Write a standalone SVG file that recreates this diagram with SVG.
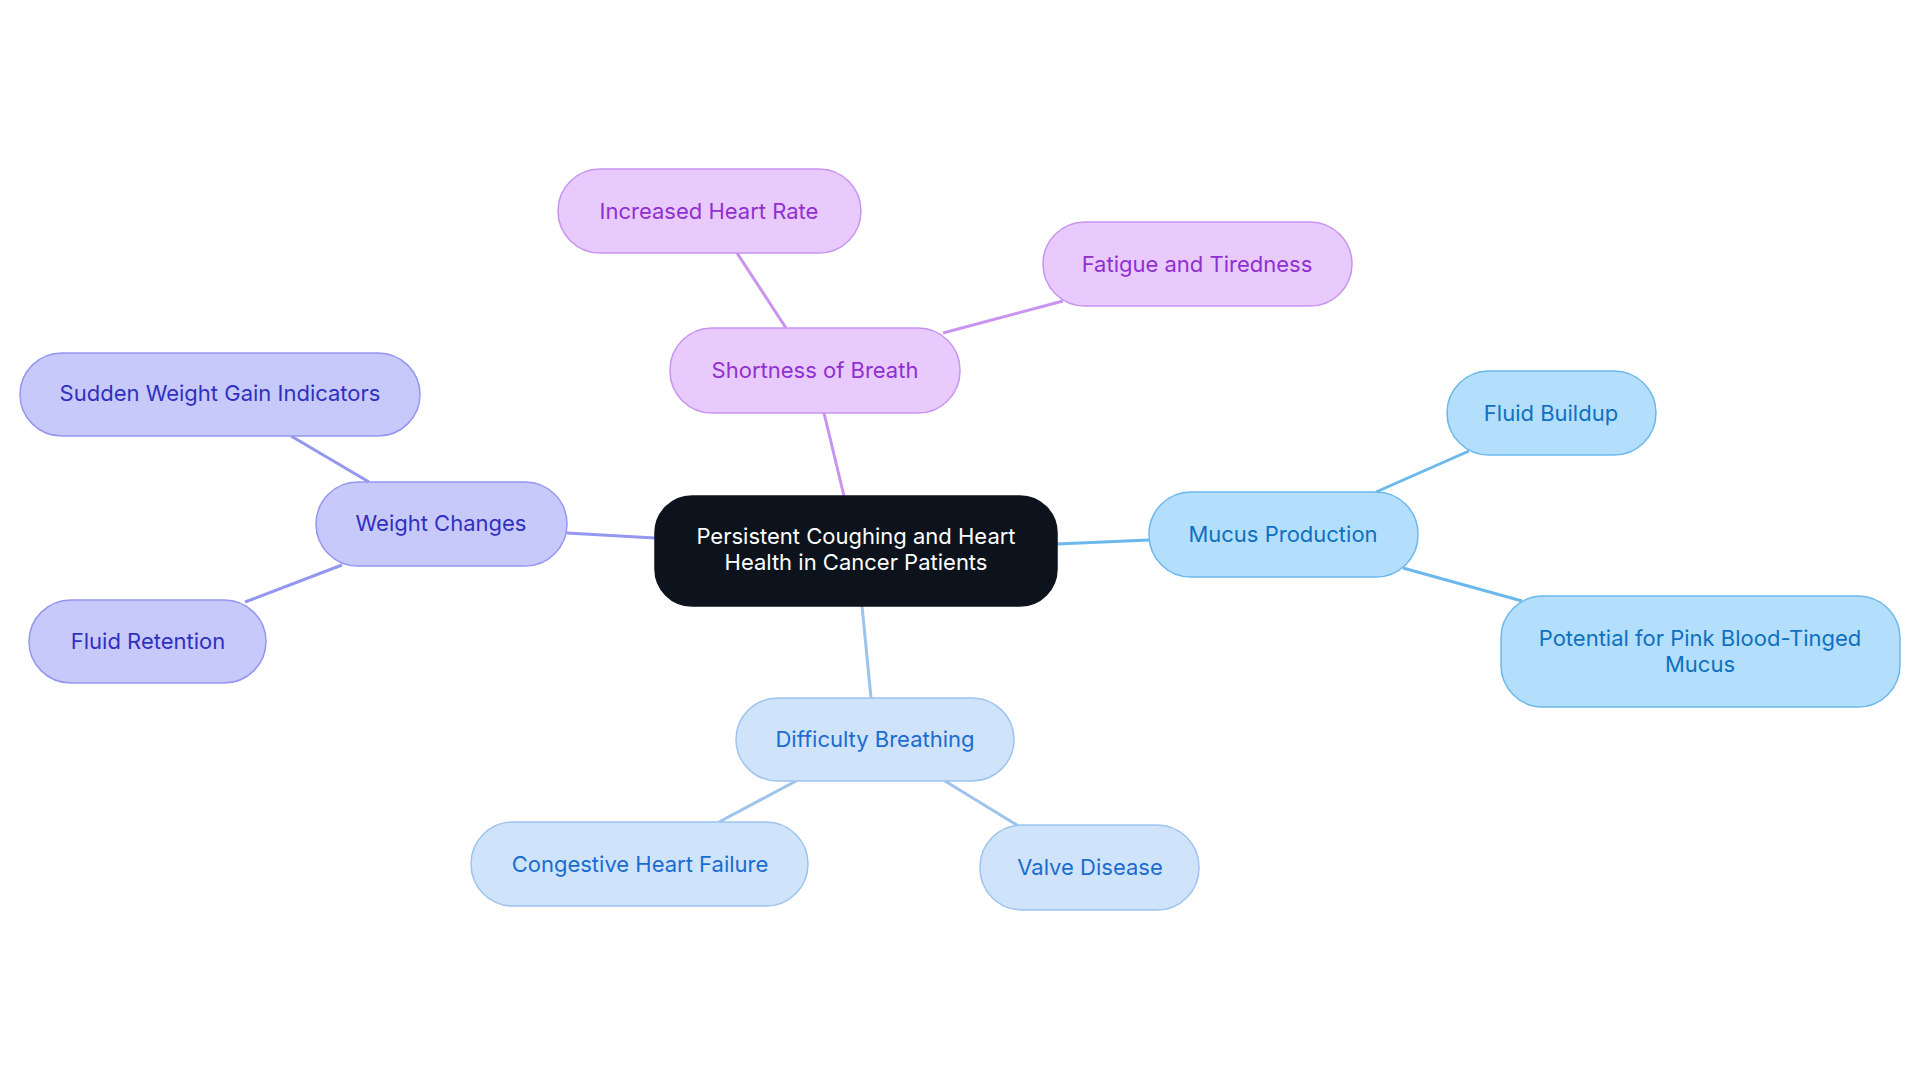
<svg xmlns="http://www.w3.org/2000/svg" width="1920" height="1083" viewBox="0 0 1920 1083">
<style>
text{font-family:Inter,"Noto Sans",sans-serif;font-size:22px;text-anchor:middle;dominant-baseline:central}
.p rect{fill:#e8cafd;stroke:#c894f0}.p text{fill:#9030d0}
.b rect{fill:#b3dffc;stroke:#6cb8ec}.b text{fill:#1070c0}
.l rect{fill:#cfe3fb;stroke:#9ec4ee}.l text{fill:#1a6cd0}
.v rect{fill:#c8c9fb;stroke:#9496ef}.v text{fill:#3030c0}
rect{stroke-width:1.5}
#edges line{stroke-width:3}
</style>
<rect width="1920" height="1083" fill="#fff"/>
<g id="edges">
<line x1="844" y1="496" x2="824" y2="413" stroke="#c894f0"/>
<line x1="786" y1="328" x2="737" y2="253" stroke="#c894f0"/>
<line x1="943" y1="333" x2="1063" y2="301" stroke="#c894f0"/>
<line x1="1057" y1="544" x2="1149" y2="540" stroke="#6cb8ec"/>
<line x1="1376" y1="492" x2="1469" y2="451" stroke="#6cb8ec"/>
<line x1="1403" y1="568" x2="1522" y2="601" stroke="#6cb8ec"/>
<line x1="862" y1="606" x2="871" y2="698" stroke="#9ec4ee"/>
<line x1="796" y1="781" x2="719" y2="822" stroke="#9ec4ee"/>
<line x1="945" y1="781" x2="1020" y2="827" stroke="#9ec4ee"/>
<line x1="655" y1="538" x2="567" y2="533" stroke="#9496ef"/>
<line x1="369" y1="482" x2="291" y2="436" stroke="#9496ef"/>
<line x1="342" y1="565" x2="245" y2="602" stroke="#9496ef"/>
</g>
<g id="center"><rect x="655" y="496" width="402" height="110" rx="37" fill="#0d131c" stroke="#0d131c"/><text x="856" y="536" fill="#fff">Persistent Coughing and Heart</text><text x="856" y="562" fill="#fff">Health in Cancer Patients</text></g>
<g id="sob" class="p"><rect x="670" y="328" width="290" height="85" rx="42"/><text x="815" y="370">Shortness of Breath</text></g>
<g id="ihr" class="p"><rect x="558" y="169" width="303" height="84" rx="42"/><text x="709" y="211">Increased Heart Rate</text></g>
<g id="fat" class="p"><rect x="1043" y="222" width="309" height="84" rx="42"/><text x="1197" y="264">Fatigue and Tiredness</text></g>
<g id="mucus" class="b"><rect x="1149" y="492" width="269" height="85" rx="42"/><text x="1283" y="534">Mucus Production</text></g>
<g id="fluid" class="b"><rect x="1447" y="371" width="209" height="84" rx="42"/><text x="1551" y="413">Fluid Buildup</text></g>
<g id="pink" class="b"><rect x="1501" y="596" width="399" height="111" rx="42"/><text x="1700" y="638">Potential for Pink Blood-Tinged</text><text x="1700" y="664">Mucus</text></g>
<g id="diff" class="l"><rect x="736" y="698" width="278" height="83" rx="42"/><text x="875" y="739">Difficulty Breathing</text></g>
<g id="chf" class="l"><rect x="471" y="822" width="337" height="84" rx="42"/><text x="640" y="864">Congestive Heart Failure</text></g>
<g id="valve" class="l"><rect x="980" y="825" width="219" height="85" rx="42"/><text x="1090" y="867">Valve Disease</text></g>
<g id="weight" class="v"><rect x="316" y="482" width="251" height="84" rx="42"/><text x="441" y="523">Weight Changes</text></g>
<g id="sudden" class="v"><rect x="20" y="353" width="400" height="83" rx="42"/><text x="220" y="393">Sudden Weight Gain Indicators</text></g>
<g id="fr" class="v"><rect x="29" y="600" width="237" height="83" rx="42"/><text x="148" y="641">Fluid Retention</text></g>
</svg>
